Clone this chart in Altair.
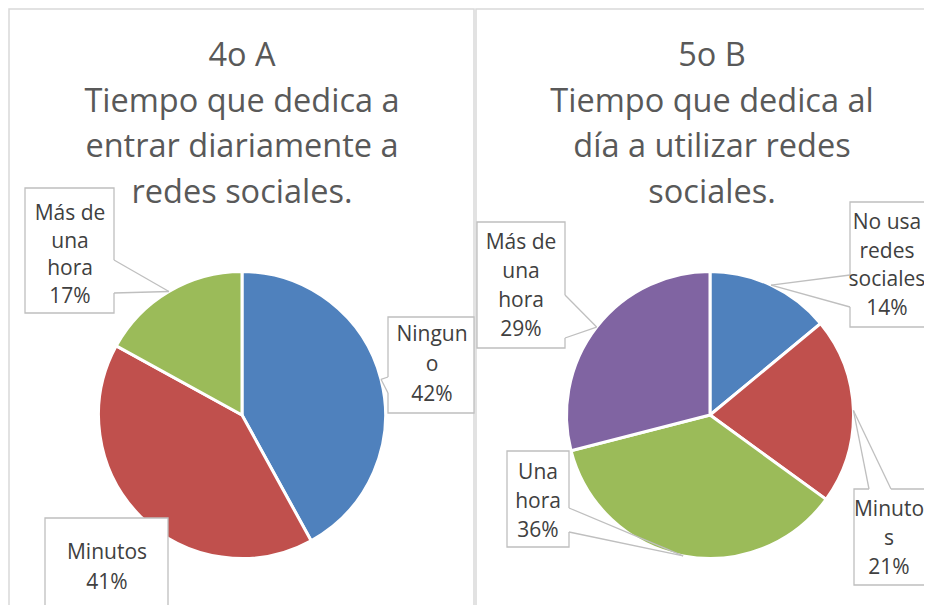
import altair as alt
import pandas as pd
import math

# ---------------- data ----------------
left_title = ["4o A", "Tiempo que dedica a", "entrar diariamente a", "redes sociales."]
left_cats = ["Ninguno", "Minutos", "Más de una hora"]
left_vals = [42, 41, 17]
left_colors = ["#4F81BD", "#C0504D", "#9BBB59"]
left_label_lines = [["Ningun", "o"], ["Minutos"], ["Más de", "una", "hora"]]

right_title = ["5o B", "Tiempo que dedica al", "día a utilizar redes", "sociales."]
right_cats = ["No usa redes sociales", "Minutos", "Una hora", "Más de una hora"]
right_vals = [14, 21, 36, 29]
right_colors = ["#4F81BD", "#C0504D", "#9BBB59", "#8064A2"]
right_label_lines = [["No usa", "redes", "sociales"], ["Minuto", "s"], ["Una", "hora"], ["Más de", "una", "hora"]]

# ---------------- layout (page pixels) ----------------
OFF = 8
W, H = 916, 597
R = 143.5
left_center = (242, 415)
right_center = (710, 415)

# callout layout: box (x1,y1,x2,y2), text centre x, first line y, line step, pointer base (two points) or None
left_callouts = [
    dict(box=(388, 317, 474, 413), tx=432, ty=335, step=30, base=((388, 377), (388, 393))),
    dict(box=(45, 518, 168, 640), tx=107, ty=553, step=30, base=None),
    dict(box=(25, 188, 114, 313), tx=70, ty=214, step=27.5, base=((114, 260), (114, 293))),
]
right_callouts = [
    dict(box=(850, 202, 945, 327), tx=887, ty=223, step=28.5, base=((850, 275), (850, 307))),
    dict(box=(854, 489, 945, 585), tx=889, ty=510, step=29, base=((869, 489), (891, 489))),
    dict(box=(507, 451, 569, 547), tx=538, ty=473, step=29, base=((569, 508), (569, 532))),
    dict(box=(477, 222, 565, 348), tx=521, ty=243, step=29, base=((565, 295), (565, 338))),
]

TITLE_COLOR = "#595959"
LABEL_COLOR = "#404040"
BORDER = "#BFBFBF"
FONT = "Open Sans"


def px(v):
    return v - OFF


def pie_layer(cats, vals, colors, center):
    df = pd.DataFrame({"cat": cats, "val": vals, "color": colors, "idx": list(range(len(cats)))})
    return alt.Chart(df).mark_arc(outerRadius=R, stroke="white", strokeWidth=3).encode(
        theta=alt.Theta("val:Q", stack=True),
        order=alt.Order("idx:Q"),
        color=alt.Color("color:N", scale=None),
        x=alt.value(px(center[0])),
        y=alt.value(px(center[1])),
    )


boxes, covers, pointers, texts = [], [], [], []


def add_callouts(cats, vals, label_lines, center, callouts):
    total = sum(vals)
    cum = 0
    for cat, v, lines, co in zip(cats, vals, label_lines, callouts):
        mid = (cum + v / 2) / total * 2 * math.pi
        cum += v
        tipx = center[0] + R * math.sin(mid)
        tipy = center[1] - R * math.cos(mid)
        x1, y1, x2, y2 = co["box"]
        boxes.append(dict(x=px(x1), x2=px(x2), y=px(y1), y2=px(y2)))
        if co["base"] is not None:
            (bx1, by1), (bx2, by2) = co["base"]
            covers.append(dict(x=px(bx1), x2=px(bx2), y=px(by1), y2=px(by2)))
            pointers.append(dict(x=px(bx1), x2=px(tipx), y=px(by1), y2=px(tipy)))
            pointers.append(dict(x=px(bx2), x2=px(tipx), y=px(by2), y2=px(tipy)))
        all_lines = lines + [f"{v}%"]
        for i, t in enumerate(all_lines):
            texts.append(dict(x=px(co["tx"]), y=px(co["ty"] + i * co["step"]), t=t))


add_callouts(left_cats, left_vals, left_label_lines, left_center, left_callouts)
add_callouts(right_cats, right_vals, right_label_lines, right_center, right_callouts)

titles = []
for lines, cx in ((left_title, 242), (right_title, 712)):
    for i, t in enumerate(lines):
        titles.append(dict(x=px(cx), y=px(56 + i * 45.7), t=t))

frames = pd.DataFrame([
    dict(x=px(9), x2=px(474), y=px(9), y2=px(700)),
    dict(x=px(476), x2=px(1000), y=px(9), y2=px(700)),
])


def XY(two=True):
    enc = dict(
        x=alt.X("x:Q", scale=None, axis=None),
        y=alt.Y("y:Q", scale=None, axis=None),
    )
    if two:
        enc["x2"] = alt.X2("x2:Q")
        enc["y2"] = alt.Y2("y2:Q")
    return enc


frame_layer = alt.Chart(frames).mark_rect(fill="white", fillOpacity=0, stroke="#D9D9D9", strokeWidth=1.5).encode(**XY())
box_layer = alt.Chart(pd.DataFrame(boxes)).mark_rect(fill="white", stroke=BORDER, strokeWidth=1.3).encode(**XY())
cover_layer = alt.Chart(pd.DataFrame(covers)).mark_rule(stroke="white", strokeWidth=2.5).encode(**XY())
pointer_layer = alt.Chart(pd.DataFrame(pointers)).mark_rule(stroke=BORDER, strokeWidth=1.3).encode(**XY())
text_layer = alt.Chart(pd.DataFrame(texts)).mark_text(
    font=FONT, fontSize=21, color=LABEL_COLOR, align="center", baseline="middle"
).encode(text="t:N", **XY(False))
title_layer = alt.Chart(pd.DataFrame(titles)).mark_text(
    font=FONT, fontSize=32.5, color=TITLE_COLOR, align="center", baseline="middle"
).encode(text="t:N", **XY(False))

chart = alt.layer(
    frame_layer,
    pie_layer(left_cats, left_vals, left_colors, left_center),
    pie_layer(right_cats, right_vals, right_colors, right_center),
    box_layer,
    cover_layer,
    pointer_layer,
    text_layer,
    title_layer,
).resolve_scale(theta="independent").properties(
    width=W, height=H, autosize=alt.AutoSizeParams(type="none"), padding=0
).configure_view(stroke=None)

chart.save("out.html", embed_options={"renderer": "svg", "actions": False})
